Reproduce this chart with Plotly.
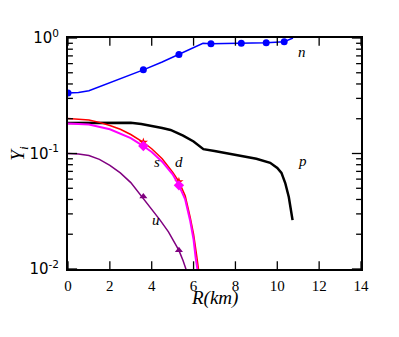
import math
import plotly.graph_objects as go

# --- data ---
n_r = [0, 0.5, 1, 2, 3, 3.6, 4.5, 5.3, 6.0, 6.45, 6.83, 8.28, 9.47, 10.33, 10.75]
n_y = [0.334, 0.338, 0.35, 0.41, 0.48, 0.53, 0.62, 0.72, 0.83, 0.90, 0.89, 0.90, 0.91, 0.93, 1.0]
n_mark_r = [0, 3.6, 5.3, 6.83, 8.28, 9.47, 10.33]
n_mark_y = [0.334, 0.53, 0.72, 0.89, 0.90, 0.91, 0.93]

p_r = [0, 1, 2, 3, 3.5, 4, 4.5, 4.9, 5.5, 6.0, 6.3, 6.47, 7, 8.07, 9, 9.66, 10, 10.2, 10.38, 10.55, 10.73]
p_y = [0.184, 0.185, 0.186, 0.185, 0.18, 0.174, 0.166, 0.16, 0.143, 0.127, 0.115, 0.109,
       0.105, 0.097, 0.09, 0.083, 0.075, 0.068, 0.0555, 0.042, 0.0265]

d_r = [0, 0.5, 1, 1.5, 2, 2.5, 3, 3.6, 4, 4.5, 5, 5.3, 5.6, 5.84, 6.0, 6.15, 6.25]
d_y = [0.201, 0.199, 0.195, 0.186, 0.175, 0.162, 0.146, 0.125, 0.11, 0.09, 0.069, 0.057,
       0.043, 0.028, 0.02, 0.013, 0.0095]
d_mark_r = [3.6, 5.3]
d_mark_y = [0.125, 0.057]

s_r = [0, 1, 2, 3, 3.6, 4, 4.5, 5, 5.3, 5.6, 5.84, 6.0, 6.1, 6.2]
s_y = [0.182, 0.178, 0.162, 0.136, 0.116, 0.103, 0.085, 0.066, 0.053, 0.04, 0.026, 0.018,
       0.0125, 0.0095]
s_mark_r = [3.6, 5.3]
s_mark_y = [0.116, 0.053]

u_r = [0, 0.5, 1, 1.5, 2, 2.5, 3, 3.5, 4, 4.4, 4.8, 5.3, 5.5, 5.65]
u_y = [0.100, 0.099, 0.096, 0.089, 0.079, 0.068, 0.056, 0.043, 0.033, 0.0265, 0.021,
       0.0145, 0.0118, 0.0098]
u_mark_r = [3.6, 5.3]
u_mark_y = [0.0425, 0.0145]

x_range = [0, 14]
y_range = [0.01, 1]
x_ticks = [0, 2, 4, 6, 8, 10, 12, 14]
y_major = [0.01, 0.1, 1]
y_major_text = ["10<sup>-2</sup>", "10<sup>-1</sup>", "10<sup>0</sup>"]
y_minor = [m * 10 ** e for e in (-2, -1) for m in range(2, 10)]

labels = [("n", 11.2, 0.76), ("p", 11.2, 0.086), ("s", 4.26, 0.085), ("d", 5.31, 0.085), ("u", 4.21, 0.0265)]

SERIF = "Liberation Serif"

fig = go.Figure()

# --- curves ---
fig.add_trace(go.Scatter(x=p_r, y=p_y, mode="lines", line=dict(color="black", width=2.5)))
fig.add_trace(go.Scatter(x=n_r, y=n_y, mode="lines", line=dict(color="blue", width=1.5)))
fig.add_trace(go.Scatter(x=n_mark_r, y=n_mark_y, mode="markers",
                         marker=dict(color="blue", size=7, symbol="circle")))
fig.add_trace(go.Scatter(x=d_r, y=d_y, mode="lines", line=dict(color="red", width=1.5)))
fig.add_trace(go.Scatter(x=d_mark_r, y=d_mark_y, mode="markers",
                         marker=dict(color="red", size=7, symbol="star")))
fig.add_trace(go.Scatter(x=s_r, y=s_y, mode="lines", line=dict(color="magenta", width=2)))
fig.add_trace(go.Scatter(x=s_mark_r, y=s_mark_y, mode="markers",
                         marker=dict(color="magenta", size=8, symbol="diamond")))
fig.add_trace(go.Scatter(x=u_r, y=u_y, mode="lines", line=dict(color="purple", width=1.5)))
fig.add_trace(go.Scatter(x=u_mark_r, y=u_mark_y, mode="markers",
                         marker=dict(color="purple", size=7, symbol="triangle-up")))

# --- inward tick marks on all four sides (half of each marker is clipped by the frame) ---
def edge_ticks(xs, ys, symbol, size):
    fig.add_trace(go.Scatter(
        x=xs, y=ys, mode="markers", cliponaxis=True, hoverinfo="skip",
        marker=dict(symbol=symbol, size=size, color="black",
                    line=dict(color="black", width=1.3)),
    ))

for xe in x_range:
    edge_ticks([xe] * len(y_major), y_major, "line-ew", 13)
    edge_ticks([xe] * len(y_minor), y_minor, "line-ew", 7)
for ye in y_range:
    edge_ticks(x_ticks, [ye] * len(x_ticks), "line-ns", 11)

# --- curve labels (annotation y on a log axis is given in log10 units) ---
for txt, lx, ly in labels:
    fig.add_annotation(x=lx, y=math.log10(ly), text=f"<i>{txt}</i>", showarrow=False,
                       xanchor="center", yanchor="middle",
                       font=dict(family=SERIF, size=15, color="black"))

# --- axis titles ---
fig.add_annotation(xref="paper", yref="paper", x=0.5, y=-0.125, text="<i>R(km)</i>",
                   xanchor="center", yanchor="middle",
                   showarrow=False, font=dict(family=SERIF, size=19, color="black"))
fig.add_annotation(xref="paper", yref="paper", x=-0.17, y=0.5, text="<i>Y<sub>i</sub></i>",
                   xanchor="center", yanchor="middle",
                   showarrow=False, textangle=-90, font=dict(family=SERIF, size=19, color="black"))

# --- formatting ---
fig.update_xaxes(
    range=x_range,
    tickvals=x_ticks,
    ticks="", ticklabelstandoff=2,
    mirror=True, showline=True, linecolor="black", linewidth=2,
    showgrid=False, zeroline=False,
    tickfont=dict(family=SERIF, size=15, color="black"),
)
fig.update_yaxes(
    type="log", range=[math.log10(v) for v in y_range],
    tickmode="array", tickvals=y_major, ticktext=y_major_text,
    ticks="", ticklabelstandoff=4,
    mirror=True, showline=True, linecolor="black", linewidth=2,
    showgrid=False, zeroline=False,
    tickfont=dict(family="DejaVu Sans", size=15, color="black"),
)

# page body adds 8px offset, so margins are shifted to keep the frame in place
fig.update_layout(
    width=399, height=337,
    margin=dict(l=60, r=46, t=30, b=76),
    showlegend=False,
    plot_bgcolor="white",
    paper_bgcolor="white",
)

fig.write_html("out.html")
